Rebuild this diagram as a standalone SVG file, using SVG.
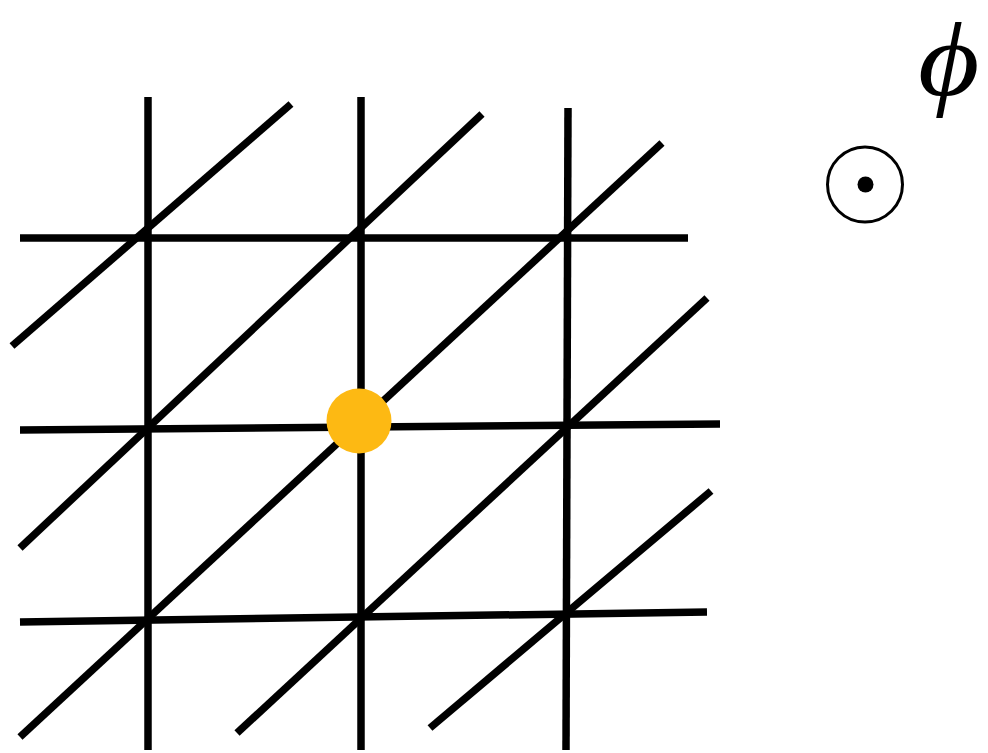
<svg xmlns="http://www.w3.org/2000/svg" width="988" height="753" viewBox="0 0 988 753">
<style>
.ln{stroke:#000;stroke-width:7.5;fill:none;stroke-linecap:butt}
</style>
<rect width="988" height="753" fill="#fff"/>
<g id="grid">
<line class="ln" x1="148" y1="97" x2="148" y2="750"/>
<line class="ln" x1="361" y1="97" x2="361" y2="750"/>
<line class="ln" x1="568" y1="108" x2="566" y2="750"/>
<line class="ln" x1="20" y1="238" x2="688" y2="238"/>
<line class="ln" x1="20" y1="430" x2="720" y2="424"/>
<line class="ln" x1="20" y1="622" x2="707" y2="612"/>
<line class="ln" x1="12" y1="346" x2="291" y2="104"/>
<line class="ln" x1="20" y1="548" x2="482" y2="114"/>
<line class="ln" x1="20" y1="737" x2="662" y2="143"/>
<line class="ln" x1="237" y1="733" x2="707" y2="298"/>
<line class="ln" x1="430" y1="728" x2="711" y2="491"/>
</g>
<circle id="site" cx="359" cy="421" r="32.5" fill="#FDB913"/>
<g id="odot">
<circle cx="865" cy="184.5" r="37.5" fill="none" stroke="#000" stroke-width="3"/>
<circle cx="865.5" cy="184.5" r="8" fill="#000"/>
</g>
<text transform="translate(918,95) scale(1.12,1)" font-family="Liberation Serif, serif" font-style="italic" font-size="106">ϕ</text>
</svg>
